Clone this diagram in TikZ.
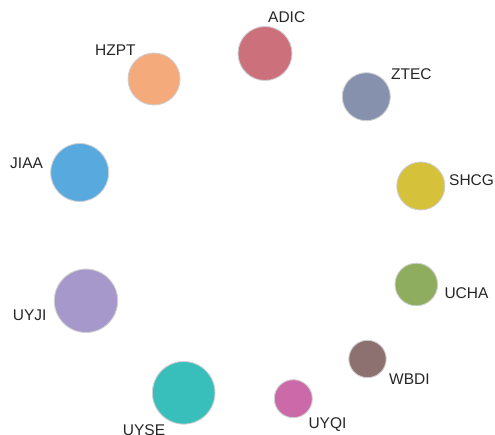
\documentclass[tikz,border=0pt]{standalone}
\usepackage{fontspec}
\setmainfont{Liberation Sans}
\usetikzlibrary{positioning}
\definecolor{adic}{HTML}{CC717C}
\definecolor{hzpt}{HTML}{F5AA7C}
\definecolor{ztec}{HTML}{8591AD}
\definecolor{jiaa}{HTML}{57A9DE}
\definecolor{shcg}{HTML}{D6C13B}
\definecolor{uyji}{HTML}{A698CA}
\definecolor{ucha}{HTML}{8FAD5E}
\definecolor{wbdi}{HTML}{8D7170}
\definecolor{uyqi}{HTML}{CB69A9}
\definecolor{uyse}{HTML}{38BFBC}
\definecolor{rim}{HTML}{CFCFCF}
\tikzset{
  bubble/.style={circle, draw=rim, line width=0.9pt, inner sep=0pt},
  tag/.style={anchor=west, inner sep=0pt, text=black!85,
    font=\fontsize{15.5}{18}\selectfont},
}

\begin{document}
\begin{tikzpicture}[x=1pt, y=-1pt]
  \clip (0,0) rectangle (495,435);
  % bubbles: name / centre x / centre y / radius / colour / label west x / label y
  \foreach \nm/\cx/\cy/\rr/\col/\lx/\ly in {
      ADIC/265/53.5/27/adic/268/17,
      HZPT/154/79/26/hzpt/95/50,
      ZTEC/366.3/96.7/24/ztec/391/74,
      JIAA/79.7/172.5/29/jiaa/10/163,
      SHCG/420.8/186/24/shcg/449/180,
      UYJI/86/300.8/31.7/uyji/12.7/315,
      UCHA/416.3/284.5/21.3/ucha/444.3/293,
      WBDI/367.5/359/18.7/wbdi/389/379,
      UYQI/293.3/398.7/19/uyqi/308.3/425,
      UYSE/183.7/392.8/31.3/uyse/122.7/430}{
    \node[bubble, fill=\col, minimum size=2*\rr] (\nm) at (\cx,\cy) {};
    \node[tag] (\nm-lbl) at (\lx,\ly) {\nm};
  }
\end{tikzpicture}
\end{document}
